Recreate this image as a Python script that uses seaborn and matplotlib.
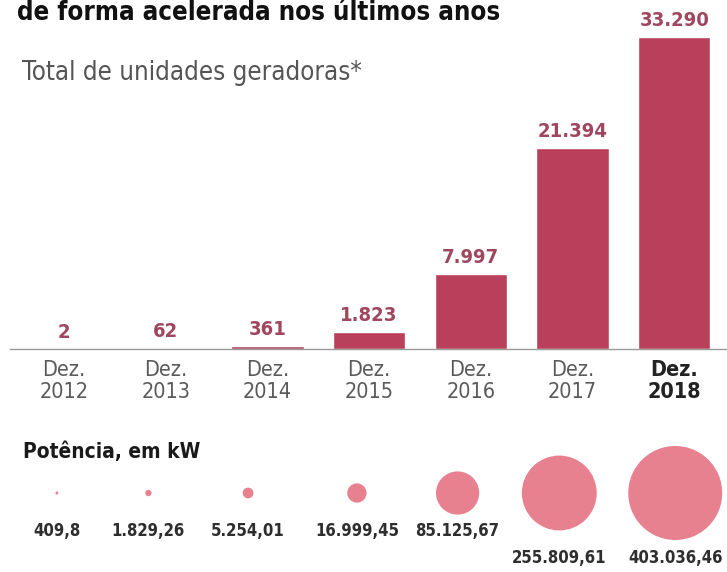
import matplotlib
matplotlib.use("Agg")
import matplotlib.pyplot as plt
import seaborn as sns
import pandas as pd

# data
periods = ["Dez.\n2012", "Dez.\n2013", "Dez.\n2014", "Dez.\n2015",
           "Dez.\n2016", "Dez.\n2017", "Dez.\n2018"]
units = [2, 62, 361, 1823, 7997, 21394, 33290]
power_kw = [409.8, 1829.26, 5254.01, 16999.45, 85125.67, 255809.61, 403036.46]
power_labels = ["409,8", "1.829,26", "5.254,01", "16.999,45", "85.125,67",
                "255.809,61", "403.036,46"]

title = "de forma acelerada nos últimos anos"
subtitle = "Total de unidades geradoras*"
power_title = "Potência, em kW"

bar_color = "#b9405a"
value_color = "#a04760"
dot_color = "#e8818f"

# small horizontal nudges of the circles relative to the bars (layout only)
dot_shift = [-0.07, -0.17, -0.19, -0.12, -0.13, -0.13, 0.01]

sns.set_style("white")
plt.rcParams["font.family"] = ["DejaVu Sans"]
plt.rcParams["font.stretch"] = "condensed"

W, H = 727, 572
fig = plt.figure(figsize=(W / 100, H / 100), dpi=100)

# ---- bar chart ----
base_px, top_px = 349, 16
ax = fig.add_axes([10 / W, 1 - base_px / H, 717 / W, (base_px - top_px) / H])
df = pd.DataFrame({"period": periods, "units": units})
sns.barplot(data=df, x="period", y="units", color=bar_color, width=0.71,
            saturation=1, ax=ax)
ax.set_xlim(-0.531, 6.519)
ax.set_ylim(0, max(units) * 1.067)
ax.set_xlabel("")
ax.set_ylabel("")
ax.set_yticks([])
for s in ["top", "left", "right"]:
    ax.spines[s].set_visible(False)
ax.spines["bottom"].set_color("#9a9a9a")
ax.spines["bottom"].set_linewidth(1)

ax.tick_params(axis="x", length=0, pad=8)
ax.set_xticks(range(len(periods)))
ax.set_xticklabels(periods, fontsize=15.5, color="#5a5a5a",
                   fontstretch="condensed")
for lab in ax.get_xticklabels():
    lab.set_linespacing(1.12)
last = ax.get_xticklabels()[-1]
last.set_fontweight("bold")
last.set_color("#222222")

ax.bar_label(ax.containers[0],
             labels=[f"{v:,}".replace(",", ".") for v in units],
             padding=5, color=value_color, fontsize=14.5, fontweight="bold",
             fontstretch="condensed")

# ---- circles for installed power ----
ax2 = fig.add_axes([10 / W, 1 - 546 / H, 717 / W, 106 / H])
ax2.set_xlim(ax.get_xlim())
ax2.set_ylim(-1, 1)
ax2.axis("off")
dots = pd.DataFrame({"x": [i + d for i, d in enumerate(dot_shift)],
                     "y": [0] * len(power_kw),
                     "kw": power_kw})
smax = (2 * 47 * 0.72) ** 2
sns.scatterplot(data=dots, x="x", y="y", size="kw", sizes=(0, smax),
                size_norm=(0, max(power_kw)), color=dot_color, linewidth=0,
                legend=False, ax=ax2, clip_on=False)
for xi, v, lab in zip(dots["x"], power_kw, power_labels):
    dy = -50.5 if v > 200000 else -31
    ax2.annotate(lab, (xi, 0), xytext=(0, dy), textcoords="offset points",
                 ha="center", va="baseline", fontsize=12, fontweight="bold",
                 fontstretch="condensed", color="#2e2e2e")

# ---- texts ----
fig.text(17 / W, 1 - 20 / H, title, fontsize=18.5, fontweight="heavy",
         fontstretch="condensed", color="#111111", va="baseline")
fig.text(22 / W, 1 - 80 / H, subtitle, fontsize=18.5, color="#555555",
         fontstretch="condensed", va="baseline")
fig.text(23 / W, 1 - 458 / H, power_title, fontsize=15, fontweight="bold",
         fontstretch="condensed", color="#1a1a1a", va="baseline")

fig.savefig("out.png", dpi=100)
